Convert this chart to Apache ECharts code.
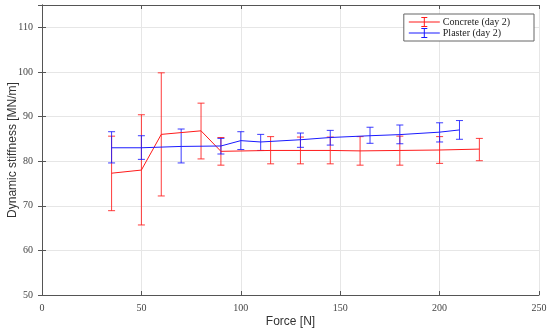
<!DOCTYPE html>
<html><head><meta charset="utf-8">
<script src="https://cdn.jsdelivr.net/npm/echarts@6/dist/echarts.min.js"></script>
<style>html,body{margin:0;padding:0;background:#fff}#c{width:550px;height:332px}</style>
</head><body><div id="c"></div>
<script>
const concreteX = [35, 50, 60, 80, 90, 115, 130, 145, 160, 180, 200, 220];
const concreteY = [77.3, 78.0, 86.0, 86.8, 82.2, 82.4, 82.4, 82.4, 82.3, 82.4, 82.5, 82.7];
const concreteLow = [68.9, 65.7, 72.2, 80.5, 79.1, 79.4, 79.4, 79.4, 79.1, 79.1, 79.5, 80.1];
const concreteHigh = [85.6, 90.4, 99.8, 93.0, 85.3, 85.5, 85.4, 85.4, 85.5, 85.6, 85.5, 85.1];

const plasterX = [35, 50, 70, 90, 100, 110, 130, 145, 165, 180, 200, 210];
const plasterY = [83.0, 83.0, 83.3, 83.4, 84.6, 84.3, 84.8, 85.3, 85.7, 85.95, 86.5, 87.0];
const plasterLow = [79.6, 80.4, 79.6, 81.6, 82.6, 82.4, 83.1, 83.6, 84.0, 83.9, 84.3, 84.9];
const plasterHigh = [86.6, 85.7, 87.2, 85.1, 86.6, 86.0, 86.3, 86.9, 87.6, 88.1, 88.6, 89.1];

const xTicks = [0, 50, 100, 150, 200, 250];
const yTicks = [50, 60, 70, 80, 90, 100, 110];

const RED = '#ff1a1a', BLUE = '#1a1aff';

function errSeries(name, xs, lo, hi, color) {
  return {
    type: 'custom', name: name, silent: true,
    data: xs.map((x, i) => [x, lo[i], hi[i]]),
    encode: { x: 0, y: [1, 2] },
    renderItem: function (params, api) {
      const a = api.coord([api.value(0), api.value(1)]);
      const b = api.coord([api.value(0), api.value(2)]);
      const w = 3.5;
      const st = { stroke: color, lineWidth: 1, fill: null, opacity: 0.85 };
      return { type: 'group', children: [
        { type: 'line', shape: { x1: a[0], y1: a[1], x2: b[0], y2: b[1] }, style: st },
        { type: 'line', shape: { x1: a[0] - w, y1: a[1], x2: a[0] + w, y2: a[1] }, style: st },
        { type: 'line', shape: { x1: b[0] - w, y1: b[1], x2: b[0] + w, y2: b[1] }, style: st }
      ]};
    },
    z: 3
  };
}

const icon = 'path://M0,4.5h31v1h-31z M15,0h1v10h-1z M12.5,0h6v1h-6z M12.5,9h6v1h-6z';
const tickFont = { fontFamily: 'Liberation Serif', fontSize: 10, color: '#444' };
const axLine = { show: true, lineStyle: { color: '#555', width: 1 } };

const chart = echarts.init(document.getElementById('c'));
chart.setOption({
  animation: false,
  grid: { left: 42, right: 11, top: 5, bottom: 37, outerBoundsMode: 'none', containLabel: false },
  legend: {
    data: [{ name: 'Concrete (day 2)', icon: icon }, { name: 'Plaster (day 2)', icon: icon }],
    orient: 'vertical', right: 16, top: 14,
    itemWidth: 31, itemHeight: 10, itemGap: 1,
    padding: [3, 24, 3, 5],
    backgroundColor: '#fff', borderColor: '#666', borderWidth: 1,
    textStyle: { fontFamily: 'Liberation Serif', fontSize: 10, color: '#222', padding: [0, 0, 0, -2] },
    selectedMode: false
  },
  xAxis: [{
    type: 'value', min: xTicks[0], max: xTicks[xTicks.length - 1], interval: 50,
    name: 'Force [N]', nameLocation: 'middle', nameGap: 21, nameMoveOverlap: false,
    nameTextStyle: { fontFamily: 'Liberation Sans', fontSize: 12, color: '#333' },
    axisLine: axLine, axisTick: { inside: true, length: 4, lineStyle: { color: '#555' } },
    axisLabel: Object.assign({ margin: 8 }, tickFont),
    splitLine: { show: true, lineStyle: { color: '#e6e6e6', width: 1 } }
  }, {
    type: 'value', position: 'top', min: xTicks[0], max: xTicks[xTicks.length - 1], interval: 50,
    axisLine: axLine, axisTick: { inside: true, length: 4, lineStyle: { color: '#555' } },
    axisLabel: { show: false }, splitLine: { show: false }
  }],
  yAxis: [{
    type: 'value', min: yTicks[0], max: 115, interval: 10,
    name: 'Dynamic stiffness [MN/m]', nameLocation: 'middle', nameGap: 23, nameMoveOverlap: false,
    nameTextStyle: { fontFamily: 'Liberation Sans', fontSize: 12, color: '#333' },
    axisLine: axLine, axisTick: { inside: true, length: 4, lineStyle: { color: '#555' } },
    axisLabel: Object.assign({ margin: 9, showMaxLabel: false }, tickFont),
    splitLine: { show: true, lineStyle: { color: '#e6e6e6', width: 1 } }
  }, {
    type: 'value', position: 'right', min: yTicks[0], max: 115, interval: 10,
    axisLine: axLine, axisTick: { inside: true, length: 4, lineStyle: { color: '#555' } },
    axisLabel: { show: false }, splitLine: { show: false }
  }],
  series: [
    errSeries('concreteErr', concreteX, concreteLow, concreteHigh, RED),
    {
      type: 'line', name: 'Concrete (day 2)', data: concreteX.map((x, i) => [x, concreteY[i]]),
      showSymbol: false, symbol: 'none', color: RED, lineStyle: { color: RED, width: 1 }, z: 4
    },
    errSeries('plasterErr', plasterX, plasterLow, plasterHigh, BLUE),
    {
      type: 'line', name: 'Plaster (day 2)', data: plasterX.map((x, i) => [x, plasterY[i]]),
      showSymbol: false, symbol: 'none', color: BLUE, lineStyle: { color: BLUE, width: 1 }, z: 4
    }
  ]
});
</script></body></html>
